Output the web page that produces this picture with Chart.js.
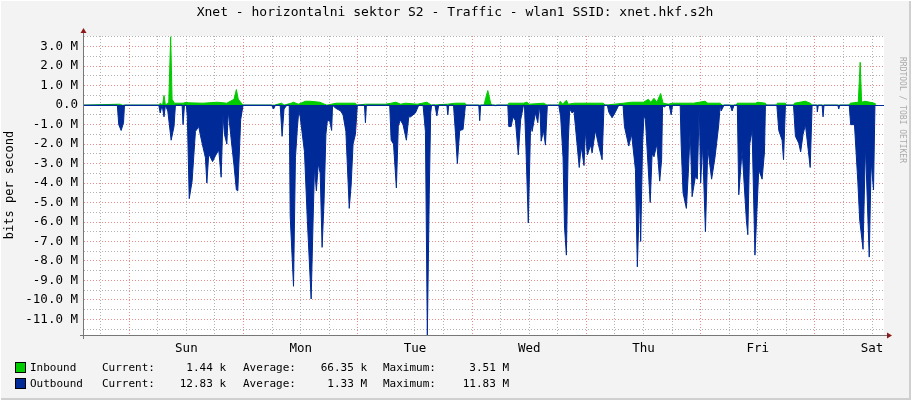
<!DOCTYPE html>
<html><head><meta charset="utf-8">
<script src="https://cdn.jsdelivr.net/npm/chart.js@4"></script>
<style>html,body{margin:0;padding:0;background:#f3f3f3}canvas{display:block}</style>
</head><body>
<div style="width:911px;height:400px"><canvas id="c" width="911" height="400"></canvas></div>
<script>
const titleText = "Xnet - horizontalni sektor S2 - Traffic - wlan1 SSID: xnet.hkf.s2h";
const dayLabels = ["Sun","Mon","Tue","Wed","Thu","Fri","Sat"];
const dayLabelHours = [21.5,45.5,69.5,93.5,117.5,141.5,165.5];
const outHours = [0,7,7.3,7.8,8.3,8.5,15.7,16,16.4,16.8,17.1,17.6,18.3,18.9,19.2,20.6,20.8,21.1,21.5,21.7,22.1,22.7,23.4,24.1,24.4,24.8,25.5,25.8,26.2,27,27.6,28.3,28.8,29.2,29.5,30,30.3,30.8,31.5,32,32.3,32.9,33.4,39.4,39.8,40.2,41.2,41.6,42,42.6,43.1,43.3,44,44.4,44.8,45.1,45.4,46.3,46.9,47.7,48.1,48.4,48.8,49.2,49.6,50,50.4,50.8,51.1,51.6,52,52.2,52.8,53.9,54.4,55,55.7,56.1,56.5,57,57.4,58.9,59.1,59.3,64.2,64.5,65,65.6,66,66.4,67,67.7,68.2,68.6,69.6,70.3,71.2,71.7,72.1,72.5,72.8,73,73.7,74.1,74.5,76.2,76.4,76.6,77.6,78,78.4,78.9,79.6,80.1,82.9,83.1,83.3,86.2,86.4,86.6,89,89.2,89.7,90.1,90.6,91.2,91.7,92.3,92.5,92.8,93.3,93.8,94.1,94.8,95.3,95.6,95.8,96,96.5,96.9,97.3,99.7,100.1,100.6,100.9,101.3,101.7,102,102.5,102.9,103.2,104,104.4,105,105.3,105.7,106.4,106.7,107.4,108.1,108.8,109.2,109.9,110.2,110.9,111.6,112.3,113.2,113.5,114.4,115,115.8,116.2,116.7,116.9,117.3,117.6,117.9,118.9,119.3,119.7,120.3,120.9,121.3,121.5,121.8,122.4,122.9,123.3,123.6,125.2,125.4,125.8,126.5,126.9,127.3,127.7,128.4,128.8,129.2,129.5,129.9,130.5,131,131.8,132.5,133.3,133.6,133.8,134.4,135.7,136.1,136.5,137.2,137.5,138.2,139.1,139.4,139.8,140.3,140.9,141.7,142.4,142.9,143.1,145.5,145.9,146.6,146.9,147.3,149,149.4,150.1,150.5,151,151.5,152.5,152.9,153.9,154,154.2,155,155.2,155.4,158.3,158.5,158.7,160.7,161,161.8,162.5,162.9,163.6,164.1,164.9,165.3,165.8,166.1];
const outValues = [0,0,-1.0,-1.3,-0.9,0,0,-0.4,0,-0.6,0,-0.3,-1.8,-1.1,0,0,-1.0,0,0,-0.6,-4.8,-3.9,-1.35,-1.1,-1.5,-1.95,-2.7,-4.0,-2.5,-2.9,-2.6,-2.3,-3.7,-0.5,-1.5,-2.0,-0.3,-1.5,-3.1,-4.35,-4.4,-0.75,0,0,-0.2,0,0,-1.6,-0.2,0,0,-5.7,-9.3,-2.7,-1.2,-0.3,-0.6,-2.4,-5.9,-9.95,-6,-3.2,-4.4,-3.0,-3.5,-7.3,-5.0,-1.5,-0.8,-0.8,-1.3,0,-0.15,-0.3,-0.5,-1.35,-5.3,-4.1,-2.0,-1.5,0,0,-0.9,0,0,-1.8,-2.0,-4.25,-1.1,-0.75,-1.0,-1.8,-0.6,-0.6,-0.4,0,0,-1.35,-11.8,-4.6,-0.4,0,0,-0.55,0,0,-0.5,0,0,-1.4,-3.0,-1.3,-1.25,0,0,-0.8,0,0,-0.05,0,0,-1.1,-1.1,-0.6,-0.8,-2.55,-0.75,0,0,-2.1,-6.05,-0.9,-1.35,-0.4,-0.9,0,-0.5,-1.85,-1.3,-2.05,0,0,-0.6,-2.7,-6.2,-7.7,-1.85,-0.2,-0.4,-0.3,-1.1,-3.2,-2.1,-3.1,-1.3,-2.55,-2.05,-2.45,-1.3,-2.1,-2.8,0,0,-0.35,-0.65,-0.35,0,0,-1.1,-2.1,-1.5,-3.3,-8.3,-4.35,-7.0,-2.0,-0.5,-0.75,-5.0,-2.5,-2.65,-2.0,-3.9,-2.8,0,-0.1,0,0,-0.5,0,0,-2.0,-4.5,-5.3,-3.5,-1.3,-4.7,-3.65,-3.8,0,-4.0,-2.0,-6.5,-2.2,-3.8,-2.7,-1.0,0,-0.3,0,0,-0.3,0,0,-4.6,-2.3,-5.9,-6.65,-2.0,-1.3,-7.7,-3.3,-3.8,-2.4,0,0,-1.3,-1.8,-2.8,0,0,-1.6,-1.95,-2.4,-1.5,-1.0,-3.2,0,0,-0.35,0,0,-0.6,0,0,-0.2,0,0,-1.0,-1.0,-3.9,-5.9,-7.4,-2.05,-7.8,-2.9,-4.35,0];
const inHours = [0,7.6,8,15.7,16,16.5,16.8,17.1,17.8,18.2,18.5,19,20.8,21.5,22,25,28,30,31.5,32,32.4,33.4,40,41.5,42,43.5,44,45,46.5,47.5,49.5,51,53,57,57.4,59.1,63.3,64.5,65.5,66.5,67.5,70,72,73,76.4,78,80,80.3,84,84.4,84.8,85.4,85.7,89,89.2,92.3,93,93.5,96.5,97.3,99.7,100,100.5,101.3,101.7,103,109,109.5,113.3,115,117.5,118.5,119,119.7,120.3,121.1,121.6,122.7,123.5,128,130.4,131,133.6,134,137,137.2,141,141.5,143.1,143.3,145.5,145.6,147.3,147.5,149,149.2,151.5,152.5,153,160.7,160.9,162.6,163,163.3,164,166,166.1];
const inValues = [0,0.05,0,0,0.1,0,0.5,0,0.15,3.51,0.3,0.1,0.1,0.15,0.12,0.1,0.15,0.1,0.3,0.8,0.3,0,0,0.1,0,0.1,0.15,0.05,0.2,0.2,0.15,0,0.1,0.1,0,0.05,0.05,0.1,0.15,0.05,0.1,0.05,0.15,0,0.05,0.1,0.1,0,0,0.4,0.75,0.1,0,0,0.1,0.1,0.15,0.05,0.1,0,0,0.2,0.05,0.25,0.05,0.1,0.1,0,0.1,0.15,0.15,0.3,0.15,0.35,0.15,0.6,0.1,0.05,0.1,0.1,0.2,0.1,0.1,0,0,0.1,0.1,0.15,0.1,0,0,0.1,0.1,0,0,0.1,0.2,0.1,0,0,0.1,0.15,2.2,0.15,0.2,0.1,0];
const legendRows = [
  {name:"Inbound", color:"#00cc00", cur:"1.44 k", avg:"66.35 k", max:"3.51 M"},
  {name:"Outbound", color:"#002a97", cur:"12.83 k", avg:"1.33 M", max:"11.83 M"}
];
const MONO = "'DejaVu Sans Mono', monospace";

function pts(h, v){ return h.map((t,i)=>({x:t,y:v[i]})); }

const deco = {
  id:'deco',
  beforeDraw(c){
    const ctx=c.ctx; ctx.save();
    ctx.fillStyle='#f3f3f3'; ctx.fillRect(0,0,911,400);
    ctx.fillStyle='#cfcfcf'; ctx.fillRect(0,398,911,2); ctx.fillRect(909,0,2,400);
    ctx.fillStyle='#ffffff'; ctx.fillRect(0,0,911,1); ctx.fillRect(0,0,1,400);
    const a=c.chartArea; ctx.fillStyle='#fff'; ctx.fillRect(a.left,a.top,a.right-a.left,a.bottom-a.top);
    ctx.restore();
  },
  afterDraw(c){
    const ctx=c.ctx, a=c.chartArea, y=c.scales.y;
    ctx.save();
    ctx.strokeStyle='#002a97'; ctx.lineWidth=1;
    const y0=Math.round(y.getPixelForValue(0))+0.5;
    ctx.beginPath(); ctx.moveTo(a.left,y0); ctx.lineTo(a.right,y0); ctx.stroke();
    ctx.strokeStyle='#777'; ctx.beginPath();
    ctx.moveTo(a.left-0.5,a.top-4); ctx.lineTo(a.left-0.5,a.bottom+4);
    ctx.moveTo(a.left-4,a.bottom+0.5); ctx.lineTo(a.right+4,a.bottom+0.5); ctx.stroke();
    ctx.fillStyle='#8b1a1a';
    ctx.beginPath(); ctx.moveTo(a.left-3.5,a.top-3); ctx.lineTo(a.left+2.5,a.top-3); ctx.lineTo(a.left-0.5,a.top-8); ctx.fill();
    ctx.beginPath(); ctx.moveTo(a.right+3,a.bottom-2.5); ctx.lineTo(a.right+3,a.bottom+3.5); ctx.lineTo(a.right+8,a.bottom+0.5); ctx.fill();
    ctx.fillStyle='#000'; ctx.font="13px "+MONO; ctx.textAlign='center'; ctx.textBaseline='middle';
    ctx.fillText(titleText,455,13);
    ctx.save(); ctx.translate(10,185); ctx.rotate(-Math.PI/2); ctx.font="12px "+MONO; ctx.fillText("bits per second",0,0); ctx.restore();
    ctx.save(); ctx.translate(902,110); ctx.rotate(Math.PI/2); ctx.font="8px "+MONO; ctx.fillStyle='#aaa'; ctx.fillText("RRDTOOL / TOBI OETIKER",0,0); ctx.restore();
    ctx.font="11px "+MONO; ctx.textBaseline='middle';
    legendRows.forEach((r,i)=>{
      const yy=368+i*16;
      ctx.fillStyle=r.color; ctx.fillRect(15.5,yy-5.5,10,10);
      ctx.strokeStyle='#000'; ctx.lineWidth=1; ctx.strokeRect(15.5,yy-5.5,10,10);
      ctx.fillStyle='#000'; ctx.textAlign='left';
      ctx.fillText(r.name,30,yy); ctx.fillText("Current:",102,yy);
      ctx.fillText("Average:",243,yy); ctx.fillText("Maximum:",383,yy);
      ctx.textAlign='right';
      ctx.fillText(r.cur,226,yy); ctx.fillText(r.avg,367,yy); ctx.fillText(r.max,509,yy);
    });
    ctx.restore();
  }
};

new Chart(document.getElementById('c'),{
  type:'line',
  data:{datasets:[
    {label:'Outbound',data:pts(outHours,outValues),fill:'origin',backgroundColor:'#002a97',borderColor:'#002a97',borderWidth:1,pointRadius:0,tension:0},
    {label:'Inbound',data:pts(inHours,inValues),fill:'origin',backgroundColor:'#00cc00',borderColor:'#00cc00',borderWidth:1,pointRadius:0,tension:0}
  ]},
  plugins:[deco],
  options:{
    responsive:false, animation:false, events:[],
    layout:{padding:{top:36,right:27,left:0,bottom:0}},
    plugins:{legend:{display:false},tooltip:{enabled:false},title:{display:false}},
    scales:{
      x:{type:'linear',min:0,max:168,
        afterFit(s){s.height=65;},
        afterBuildTicks(s){const t=[];for(let v=3.5;v<168;v+=6)t.push({value:v});s.ticks=t;},
        border:{display:false,dash:[1,2]},
        grid:{drawTicks:false,lineWidth:1,
          color:ctx=>(((ctx.tick&&ctx.tick.value)-9.5)%24===0)?'rgba(235,110,110,0.8)':'rgba(160,160,160,0.8)'},
        ticks:{autoSkip:false,maxRotation:0,padding:6,color:'#000',font:{family:MONO,size:12.5},
          callback(v){const i=dayLabelHours.indexOf(v);return i>=0?dayLabels[i]:'';}}
      },
      y:{min:-11.8,max:3.55,
        afterFit(s){s.width=84;},
        afterBuildTicks(s){const t=[];for(let v=-11.5;v<=3.5;v+=0.5)t.push({value:v});s.ticks=t;},
        border:{display:false,dash:[1,2]},
        grid:{drawTicks:false,lineWidth:1,
          color:ctx=>(Number.isInteger(ctx.tick&&ctx.tick.value))?'rgba(235,110,110,0.8)':'rgba(160,160,160,0.8)'},
        ticks:{autoSkip:false,padding:6,color:'#000',font:{family:MONO,size:12.5},
          callback(v){if(!Number.isInteger(v))return '';return v===0?'0.0':v.toFixed(1)+' M';}}
      }
    }
  }
});
</script></body></html>
